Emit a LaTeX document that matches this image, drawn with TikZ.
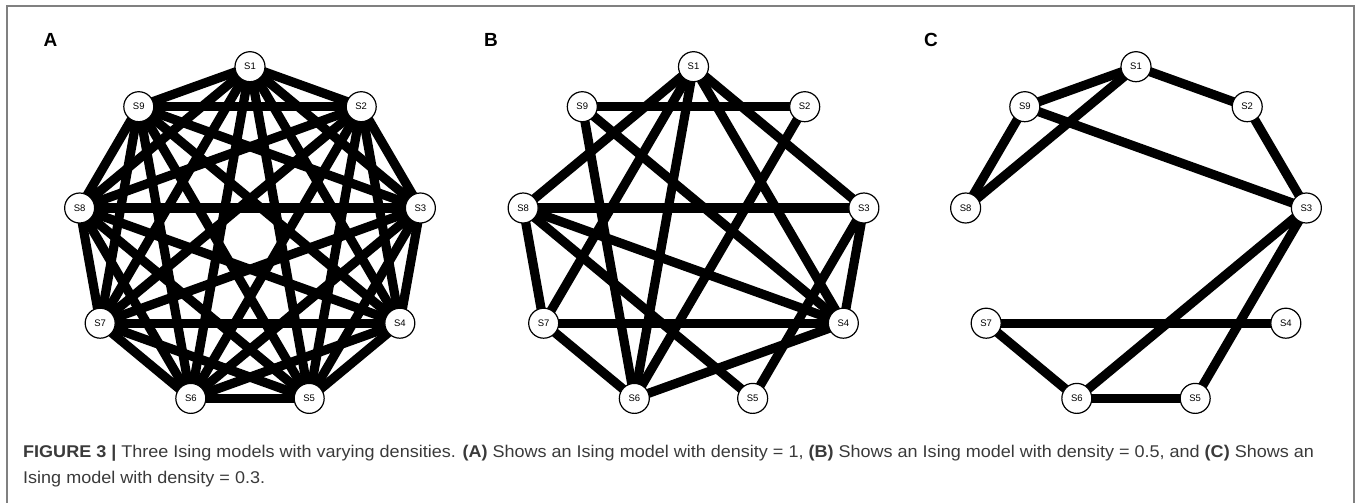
\documentclass[tikz,border=0pt]{standalone}
\usepackage{fontspec}
\setmainfont{Liberation Sans}
\usetikzlibrary{backgrounds}
\definecolor{captiongray}{HTML}{3A3A3A}
\definecolor{framegray}{HTML}{808080}

\begin{document}
\begin{tikzpicture}[x=1pt,y=-1pt,
  vertex/.style={circle,draw=black,line width=1.2pt,fill=white,minimum size=30pt,
                 inner sep=0pt,font=\fontsize{9.5}{9.5}\selectfont},
  edge/.style={line width=9.2pt},
  panellabel/.style={font=\fontsize{19}{19}\selectfont\bfseries},
  caption/.style={anchor=base west,inner sep=0pt,text=captiongray,
                  font=\fontsize{17}{17}\selectfont},
  ]
\useasboundingbox (0,0) rectangle (1357,503);

% open frame around the figure
\draw[framegray,line width=2pt] (7,503) -- (7,6) -- (1354,6) -- (1354,503);

% the nine spins of each model, on a nonagon
\foreach \p/\cx in {A/250,B/693.5,C/1136}{
  \foreach \k in {1,...,9}{
    \pgfmathsetmacro\ang{90-40*(\k-1)}
    \node[vertex] (\p\k) at ({\cx+173*cos(\ang)},{237.7-171*sin(\ang)}) {S\k};
  }
}

% panel letters
\node[panellabel] (labA) at (50.5,40) {A};
\node[panellabel] (labB) at (491,40) {B};
\node[panellabel] (labC) at (931,40) {C};

\begin{scope}[on background layer]
  % (A) density 1: every pair is connected
  \foreach \i in {1,...,8}{
    \pgfmathtruncatemacro\jstart{\i+1}
    \foreach \j in {\jstart,...,9}
      \draw[edge] (A\i.center) -- (A\j.center);
  }
  % (B) density 0.5
  \foreach \i/\j in {1/8,1/7,1/6,1/4,1/3,9/2,9/6,9/4,2/6,8/3,8/4,8/5,8/7,7/4,7/6,3/4,3/5,4/6}
    \draw[edge] (B\i.center) -- (B\j.center);
  % (C) density 0.3
  \foreach \i/\j in {1/9,1/8,1/2,9/8,9/3,2/3,3/6,3/5,7/4,7/6,6/5}
    \draw[edge] (C\i.center) -- (C\j.center);
\end{scope}

% caption
\node[caption] (cap1) at (23,457.3) {\scalebox{1.06}[1]{\textbf{FIGURE 3 |} Three Ising models with varying densities. \textbf{(A)} Shows an Ising model with density = 1, \textbf{(B)} Shows an Ising model with density = 0.5, and \textbf{(C)} Shows an}};
\node[caption] (cap2) at (23,483) {\scalebox{1.06}[1]{Ising model with density = 0.3.}};
\end{tikzpicture}
\end{document}
